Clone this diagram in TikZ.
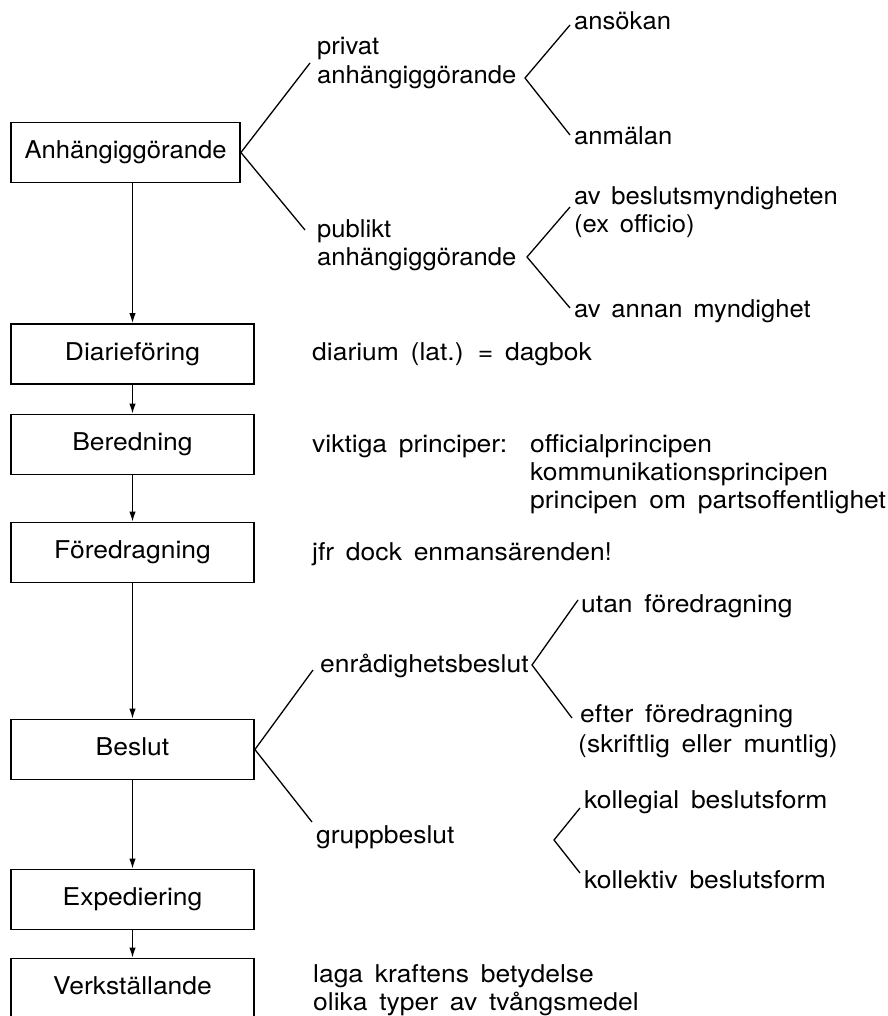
\documentclass[tikz,border=0pt]{standalone}
\usepackage{fontspec}
\setmainfont{TeX Gyre Heros}
% slightly widened faces with loose word spacing
\newfontfamily\upperface{TeX Gyre Heros}[FakeStretch=1.045, WordSpace=1.5]
\newfontfamily\lowerface{TeX Gyre Heros}[FakeStretch=1.08, WordSpace=1.6]
\usetikzlibrary{arrows.meta}
\begin{document}
\begin{tikzpicture}[x=1pt,y=-1pt,
  font=\fontsize{24.5}{28.5}\upperface,
  low/.style={font=\fontsize{24.5}{28.5}\lowerface},
  stage/.style={draw, line width=1.8pt, minimum width=243pt, minimum height=60pt,
    inner sep=0pt, text height=17pt, text depth=5pt},
  lbl/.style={anchor=base west, inner sep=0pt},
  link/.style={line width=1.3pt},
  flow/.style={line width=1.3pt, -{Latex[length=10pt,width=6.5pt]}}]
\useasboundingbox (0,0) rectangle (887,1016);

% process stages
\node[stage, minimum width=229pt] (anh) at (125.5,152.5) {Anhängiggörande};
\begin{scope}[low]
\node[stage] (dia) at (132.5,354) {Diarieföring};
\node[stage] (ber) at (132.5,444.5) {Beredning};
\node[stage] (fore) at (132.5,552.5) {Föredragning};
\node[stage] (bes) at (132.5,749.5) {Beslut};
\node[stage] (exp) at (132.5,899.5) {Expediering};
\node[stage] (ver) at (132.5,988.5) {Verkställande};
\end{scope}

% flow between stages
\draw[flow] (dia.north |- anh.south) -- (dia.north);
\draw[flow] (dia.south) -- (ber.north);
\draw[flow] (ber.south) -- (fore.north);
\draw[flow] (fore.south) -- (bes.north);
\draw[flow] (bes.south) -- (exp.north);
\draw[flow] (exp.south) -- (ver.north);

% Anhängiggörande: forms
\node[lbl] (priv1) at (317,55) {privat};
\node[lbl] (priv2) at (317,84) {anhängiggörande};
\node[lbl] (pub1) at (317,237) {publikt};
\node[lbl] (pub2) at (317,265) {anhängiggörande};
\node[lbl] (ans) at (574,30) {ansökan};
\node[lbl] (anm) at (574,145) {anmälan};
\node[lbl] (egen1) at (574,205) {av beslutsmyndigheten};
\node[lbl] (egen2) at (574,233) {(ex officio)};
\node[lbl] (annan) at (574,317) {av annan myndighet};

\coordinate (privEnd) at (310,63);
\coordinate (pubEnd) at (305,230);
\draw[link] (anh.east) -- (privEnd);
\draw[link] (anh.east) -- (pubEnd);

\coordinate (privV) at (525,78);
\coordinate (privA) at (570,25);
\coordinate (privB) at (570,135);
\draw[link] (privA) -- (privV) -- (privB);

\coordinate (pubV) at (527,257);
\coordinate (pubA) at (570,207);
\coordinate (pubB) at (570,308);
\draw[link] (pubA) -- (pubV) -- (pubB);

\begin{scope}[low]
% notes beside stages
\node[lbl] (diaNote) at (312,360) {diarium (lat.) = dagbok};
\node[lbl] (berNote) at (312,452) {viktiga principer:};
\node[lbl] (prin1) at (530,452) {officialprincipen};
\node[lbl] (prin2) at (530,480) {kommunikationsprincipen};
\node[lbl] (prin3) at (530,508) {principen om partsoffentlighet};
\node[lbl] (foreNote) at (312,560) {jfr dock enmansärenden!};

% Beslut: forms
\node[lbl] (enr) at (320,672) {enrådighetsbeslut};
\node[lbl] (utan) at (581,612) {utan föredragning};
\node[lbl] (efter1) at (580,722) {efter föredragning};
\node[lbl] (efter2) at (578,752) {(skriftlig eller muntlig)};
\node[lbl] (grupp) at (316,843) {gruppbeslut};
\node[lbl] (koll1) at (584,808) {kollegial beslutsform};
\node[lbl] (koll2) at (584,888) {kollektiv beslutsform};

% Verkställande: notes
\node[lbl] (ver1) at (313,982) {laga kraftens betydelse};
\node[lbl] (ver2) at (313,1010) {olika typer av tvångsmedel};
\end{scope}

\coordinate (enrEnd) at (313,670);
\coordinate (gruppEnd) at (312,822);
\draw[link] (bes.east) -- (enrEnd);
\draw[link] (bes.east) -- (gruppEnd);

\coordinate (enrV) at (532,665);
\coordinate (enrA) at (578,600);
\coordinate (enrB) at (572,718);
\draw[link] (enrA) -- (enrV) -- (enrB);

\coordinate (gruppV) at (554,840);
\coordinate (gruppA) at (580,808);
\coordinate (gruppB) at (580,873);
\draw[link] (gruppA) -- (gruppV) -- (gruppB);
\end{tikzpicture}
\end{document}
